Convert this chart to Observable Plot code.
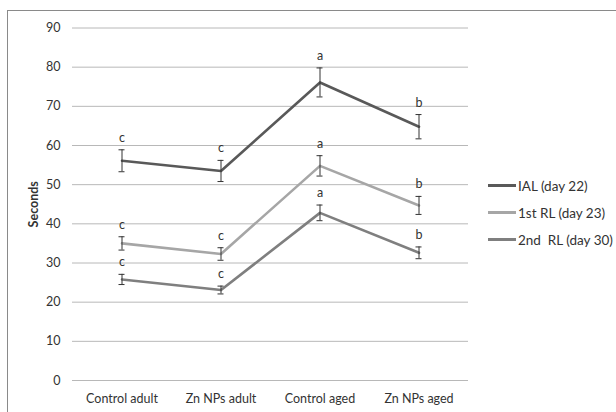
<!DOCTYPE html>
<html><head><meta charset="utf-8">
<script src="https://cdn.jsdelivr.net/npm/d3@7"></script>
<script src="https://cdn.jsdelivr.net/npm/@observablehq/plot@0.6"></script>
<style>
body{margin:0;background:#fff;font-family:Lato,"Open Sans",sans-serif;}
#wrap{position:relative;width:616px;height:412px;overflow:hidden;}
#frame{position:absolute;left:7px;top:10px;width:700px;height:500px;border-left:1.3px solid #8a8a8a;border-top:1.3px solid #8a8a8a;}
#legend{position:absolute;left:488px;top:172px;font-size:13.5px;color:#333;}
.li{display:flex;align-items:center;height:27px;}
.sw{width:28px;height:3px;margin-right:2px;}
g[aria-label="y-axis label"] text{font-weight:bold;font-size:12.5px;}
</style></head>
<body><div id="wrap"><div id="frame"></div><div id="chart"></div><div id="legend"></div></div>
<script>
const categories = ["Control adult","Zn NPs adult","Control aged","Zn NPs aged"];
const seriesNames = ["IAL (day 22)","1st RL (day 23)","2nd  RL (day 30)"];
const colors = ["#595959","#a6a6a6","#7f7f7f"];
const ialMean = [56.1, 53.5, 76.1, 64.8];
const ialErr  = [2.8, 2.7, 3.7, 3.1];
const rl1Mean = [35.0, 32.3, 54.8, 44.7];
const rl1Err  = [1.7, 1.6, 2.6, 2.3];
const rl2Mean = [25.8, 23.1, 42.8, 32.6];
const rl2Err  = [1.3, 1.0, 2.0, 1.5];
const letters = [["c","c","a","b"],["c","c","a","b"],["c","c","a","b"]];
const yTicks = [0,10,20,30,40,50,60,70,80,90];

const means=[ialMean,rl1Mean,rl2Mean], errs=[ialErr,rl1Err,rl2Err];
const data=[];
seriesNames.forEach((s,si)=>categories.forEach((c,ci)=>data.push({series:s,cat:c,v:means[si][ci],e:errs[si][ci],lo:means[si][ci]-errs[si][ci],hi:means[si][ci]+errs[si][ci],letter:letters[si][ci]})));

const chart = Plot.plot({
  width:616, height:412,
  marginLeft:72, marginRight:148, marginTop:27.5, marginBottom:32,
  style:{fontFamily:"Lato, 'Open Sans', sans-serif", fontSize:"12.5px", color:"#333", background:"transparent"},
  x:{type:"band", domain:categories, padding:0, align:0.5},
  y:{domain:[0,90]},
  color:{domain:seriesNames, range:colors},
  marks:[
    Plot.gridY(yTicks,{stroke:"#b8b8b8", strokeOpacity:1, strokeWidth:1}),
    Plot.ruleX([0],{frameAnchor:"left", stroke:"#b8b8b8"}),
    Plot.axisY({ticks:yTicks, tickSize:0, tickPadding:12, fontSize:12.5, label:"Seconds", labelAnchor:"center", labelOffset:43, labelArrow:"none"}),
    Plot.axisX({tickSize:0, tickPadding:14, fontSize:12.5, label:null}),
    Plot.line(data,{x:"cat", y:"v", z:"series", stroke:"series", strokeWidth:2.6}),
    Plot.ruleX(data,{x:"cat", y1:"lo", y2:"hi", stroke:"#333", strokeWidth:1}),
    Plot.tickY(data,{x:"cat", y:"lo", stroke:"#333", strokeWidth:1, insetLeft:46.5, insetRight:46.5}),
    Plot.tickY(data,{x:"cat", y:"hi", stroke:"#333", strokeWidth:1, insetLeft:46.5, insetRight:46.5}),
    Plot.text(data,{x:"cat", y:"hi", text:"letter", dy:-12, fill:"#333", fontSize:12.5})
  ]
});
document.getElementById("chart").appendChild(chart);
const lg=document.getElementById("legend");
seriesNames.forEach((s,i)=>{const d=document.createElement("div");d.className="li";d.innerHTML=`<span class="sw" style="background:${colors[i]}"></span><span style="white-space:pre">${s}</span>`;lg.appendChild(d);});
</script></body></html>
